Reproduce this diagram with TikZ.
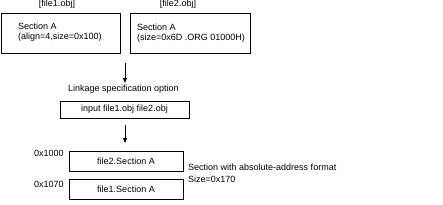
\documentclass[tikz,border=0pt]{standalone}
\usepackage{fontspec}
\setmainfont{Liberation Sans}
\usetikzlibrary{arrows.meta}
\begin{document}
\begin{tikzpicture}[x=1pt,y=-1pt,
  box/.style={draw,line width=1pt,inner sep=0pt},
  lbl/.style={inner sep=0pt,font=\fontsize{9}{10}\selectfont},
  conn/.style={line width=1pt,-{Triangle[length=5pt,width=4pt]}}]
\useasboundingbox (0,0) rectangle (443,204);
% top boxes
\node[box,minimum width=119pt,minimum height=40pt] (b1) at (60.5,33) {};
\node[box,minimum width=120pt,minimum height=40pt] (b2) at (190,33) {};
\node[lbl] (l1) at (57,4) {[file1.obj]};
\node[lbl] (l2) at (178,4) {[file2.obj]};
\node[lbl,anchor=west] (t1a) at (18,26.5) {Section A};
\node[lbl,anchor=west] (t1b) at (18,37.5) {(align=4,size=0x100)};
\node[lbl,anchor=west] (t2a) at (137,27) {Section A};
\node[lbl,anchor=west] (t2b) at (137,38) {(size=0x6D .ORG 01000H)};
% arrow 1
\coordinate (a1s) at (125,63);
\coordinate (a1e) at (125,83);
\draw[conn] (a1s) -- (a1e);
\node[lbl,anchor=west] (opt) at (68,89) {Linkage specification option};
\node[box,minimum width=129pt,minimum height=17pt,lbl] (in) at (124.5,109.5) {input file1.obj file2.obj};
% arrow 2
\coordinate (a2s) at (125,125);
\coordinate (a2e) at (125,143);
\draw[conn] (a2s) -- (a2e);
% result
\node[box,minimum width=114pt,minimum height=20pt,lbl] (s2) at (126,161) {file2.Section A};
\node[box,minimum width=114pt,minimum height=20pt,lbl] (s1) at (126,189) {file1.Section A};
\node[lbl,anchor=west] (ad1) at (34,153) {0x1000};
\node[lbl,anchor=west] (ad2) at (34,184) {0x1070};
\node[lbl,anchor=west] (n1) at (188,167.5) {Section with absolute-address format};
\node[lbl,anchor=west] (n2) at (188,179) {Size=0x170};
\end{tikzpicture}
\end{document}
